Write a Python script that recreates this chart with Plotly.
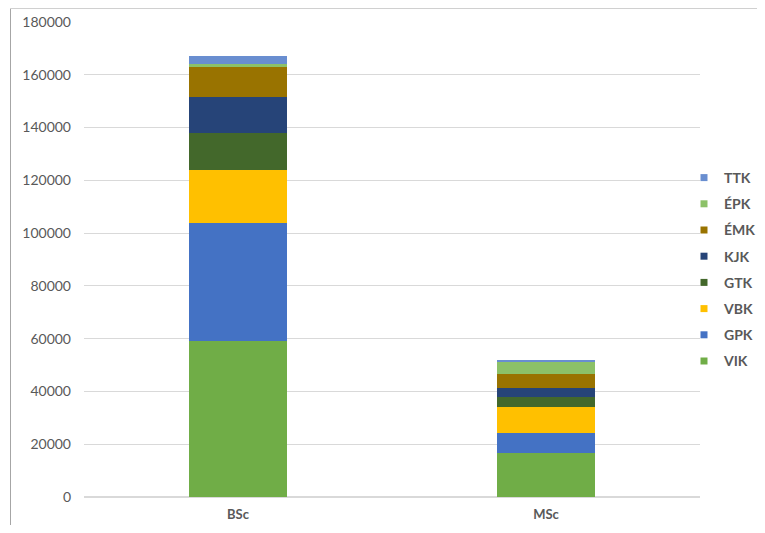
import plotly.graph_objects as go

categories = ["BSc", "MSc"]
series_names = ["VIK", "GPK", "VBK", "GTK", "KJK", "ÉMK", "ÉPK", "TTK"]
VIK = [59150, 16700]
GPK = [44750, 7600]
VBK = [20100, 9900]
GTK = [14030, 3800]
KJK = [13650, 3400]
EMK = [11380, 5300]
EPK = [1140, 4550]
TTK = [3030, 760]
series_values = [VIK, GPK, VBK, GTK, KJK, EMK, EPK, TTK]
colors = ["#70AD47", "#4472C4", "#FFC000", "#43682B", "#264478", "#997300", "#8CC168", "#698ED0"]
y_ticks = [0, 20000, 40000, 60000, 80000, 100000, 120000, 140000, 160000, 180000]

fig = go.Figure()
for name, vals, col in zip(series_names, series_values, colors):
    fig.add_trace(go.Bar(x=categories, y=vals, name=name, marker=dict(color=col, line=dict(width=0)),
                         showlegend=False, width=0.315))
# legend entries (top to bottom: TTK ... VIK)
for name, col in reversed(list(zip(series_names, colors))):
    fig.add_trace(go.Scatter(x=[None], y=[None], mode="markers", name=name, legendgroup=name,
                             marker=dict(symbol="square", size=7, color=col)))

W, H = 757, 517
L, R, T, B = 76, 65, 14, 28
pw, ph = W - L - R, H - T - B

def px(xp):
    return (xp - L) / pw

def py(yp):
    return (H - B - yp) / ph

fig.update_layout(
    width=W, height=H,
    barmode="stack",
    paper_bgcolor="white", plot_bgcolor="white",
    margin=dict(l=L, r=R, t=T, b=B, autoexpand=False),
    font=dict(family="Lato", size=14, color="#595959"),
    showlegend=True,
    legend=dict(x=px(676), xanchor="left", y=py(154), yanchor="top",
                traceorder="grouped", tracegroupgap=5,
                font=dict(size=14, color="#595959", weight="bold"),
                bgcolor="rgba(0,0,0,0)"),
    xaxis=dict(range=[-0.5, 1.5], showgrid=False, zeroline=False, showline=False,
               tickfont=dict(size=13, weight="bold"), ticklabelstandoff=8),
    yaxis=dict(range=[0, 180000], tickvals=y_ticks, showgrid=True, gridcolor="#D9D9D9",
               gridwidth=1, zeroline=True, zerolinecolor="#D9D9D9", showline=False,
               tickformat="d", ticklabelstandoff=12),
    shapes=[
        dict(type="line", xref="paper", yref="paper", x0=px(2.5), x1=px(2.5), y0=py(0.5), y1=py(H),
             line=dict(color="#A6A6A6", width=1)),
        dict(type="line", xref="paper", yref="paper", x0=px(2.5), x1=px(W), y0=py(0.5), y1=py(0.5),
             line=dict(color="#D0D0D0", width=1)),
    ],
)
fig.write_html("out.html")
